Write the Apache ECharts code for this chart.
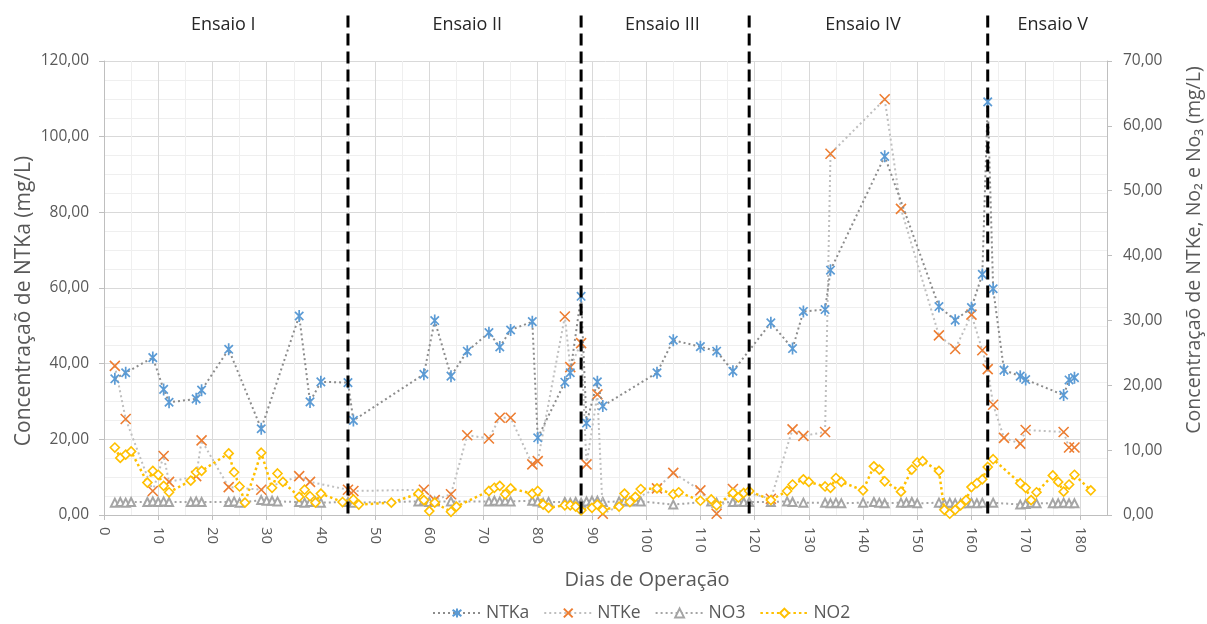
<!DOCTYPE html>
<html>
<head>
<meta charset="utf-8">
<script src="https://cdn.jsdelivr.net/npm/echarts@6/dist/echarts.min.js"></script>
<style>
  html, body { margin: 0; padding: 0; background: #ffffff; }
  #chart { width: 1207px; height: 624px; }
</style>
</head>
<body>
<div id="chart"></div>
<script>
// Operating days and concentrations (mg/L) for each parameter
const ntkaDays = [2, 4, 9, 11, 12, 17, 18, 23, 29, 36, 38, 40, 45, 46, 59, 61, 64, 67, 71, 73,
  75, 79, 80, 85, 86, 88, 89, 91, 92, 102, 105, 110, 113, 116, 123, 127, 129, 133, 134, 144,
  154, 157, 160, 162, 163, 164, 166, 169, 170, 177, 178, 179];
const ntkaValues = [36.0, 37.6, 41.6, 33.2, 29.8, 30.7, 33.0, 43.8, 22.8, 52.6, 29.9, 35.2, 35.0, 25.0, 37.2, 51.4, 36.7, 43.3, 48.2, 44.4,
  48.9, 51.1, 20.4, 35.1, 37.6, 57.8, 24.3, 35.2, 28.8, 37.6, 46.2, 44.5, 43.3, 38.0, 50.8, 44.0, 53.8, 54.3, 64.7, 94.8,
  55.1, 51.5, 54.8, 63.6, 109.2, 59.8, 38.3, 36.7, 35.8, 31.7, 35.7, 36.3];

const ntkeDays = [2, 4, 9, 11, 12, 17, 18, 23, 29, 36, 38, 45, 46, 59, 61, 64, 67, 71, 73, 75,
  79, 80, 85, 86, 88, 89, 91, 92, 102, 105, 110, 113, 116, 123, 127, 129, 133, 134, 144, 147,
  154, 157, 160, 162, 163, 164, 166, 169, 170, 177, 178, 179];
const ntkeValues = [23.0, 14.8, 3.7, 9.1, 5.1, 6.0, 11.5, 4.3, 3.9, 6.0, 5.1, 3.9, 3.7, 3.9, 2.3, 3.2, 12.3, 11.8, 15.0, 15.0,
  7.8, 8.3, 30.6, 22.8, 26.5, 7.8, 18.6, 0.2, 4.1, 6.5, 3.8, 0.2, 4.0, 2.5, 13.2, 12.2, 12.8, 55.7, 64.1, 47.2,
  27.7, 25.6, 30.9, 25.4, 22.5, 17.0, 11.9, 11.0, 13.1, 12.8, 10.4, 10.4];

const no3Days = [2, 3, 4, 5, 8, 9, 10, 11, 12, 16, 17, 18, 23, 24, 25, 29, 30, 31, 32, 36,
  37, 38, 39, 40, 45, 46, 58, 59, 60, 61, 64, 71, 72, 73, 74, 75, 79, 80, 81, 82,
  85, 86, 87, 88, 89, 90, 91, 92, 95, 96, 97, 98, 99, 105, 112, 113, 116, 117, 118, 119,
  123, 126, 127, 129, 133, 134, 135, 136, 140, 142, 143, 144, 147, 148, 149, 150, 154, 155, 156, 157,
  158, 159, 160, 161, 162, 164, 169, 170, 171, 172, 175, 176, 177, 178, 179];
const no3Values = [1.9, 2.0, 1.9, 2.0, 2.0, 2.1, 2.0, 2.1, 2.0, 2.0, 2.1, 2.0, 2.0, 2.1, 1.9, 2.3, 2.2, 2.2, 2.1, 2.0,
  1.9, 2.0, 2.1, 1.9, 2.0, 1.9, 2.1, 2.2, 2.0, 2.1, 2.1, 2.1, 2.2, 2.1, 2.2, 2.1, 2.2, 2.1, 1.9, 2.0,
  2.0, 1.9, 2.0, 1.9, 2.1, 2.2, 2.2, 2.0, 2.1, 2.2, 2.1, 2.2, 2.1, 1.6, 2.1, 1.9, 2.0, 2.1, 2.0, 2.0,
  2.0, 2.1, 2.0, 1.9, 1.9, 1.8, 1.9, 1.8, 1.9, 2.0, 1.9, 1.8, 1.9, 1.9, 2.0, 1.8, 1.9, 1.8, 1.9, 1.8,
  1.8, 1.8, 1.9, 1.8, 1.9, 1.9, 1.6, 1.7, 1.9, 1.8, 1.8, 1.8, 1.9, 1.8, 1.8];

const no2Days = [2, 3, 4, 5, 8, 9, 10, 11, 12, 16, 17, 18, 23, 24, 25, 26, 29, 31, 32, 33,
  36, 37, 38, 39, 40, 44, 46, 47, 53, 58, 59, 60, 61, 64, 65, 71, 72, 73, 74, 75,
  79, 80, 81, 82, 85, 86, 87, 88, 90, 91, 92, 95, 96, 97, 98, 99, 102, 105, 106, 110,
  112, 113, 116, 117, 118, 119, 123, 126, 127, 129, 130, 133, 134, 135, 136, 140, 142, 143, 144, 147,
  149, 150, 151, 154, 155, 156, 157, 158, 159, 160, 161, 162, 163, 164, 169, 170, 171, 172, 175, 176,
  177, 178, 179, 182];
const no2Values = [10.4, 8.8, 9.3, 9.8, 5.0, 6.8, 6.2, 4.5, 3.5, 5.3, 6.6, 6.8, 9.5, 6.6, 4.4, 1.9, 9.6, 4.2, 6.4, 5.1,
  2.8, 3.9, 2.9, 1.9, 3.3, 2.0, 2.4, 1.6, 1.9, 3.3, 2.3, 0.6, 1.9, 0.5, 1.3, 3.7, 4.2, 4.5, 3.2, 4.1,
  3.3, 3.7, 1.6, 1.1, 1.5, 1.5, 1.3, 0.7, 1.1, 1.6, 0.8, 1.3, 3.3, 2.0, 2.8, 4.0, 4.1, 3.2, 3.5, 2.2,
  2.4, 1.5, 3.4, 2.7, 3.4, 3.7, 2.3, 3.7, 4.7, 5.5, 5.1, 4.4, 4.2, 5.7, 5.1, 3.8, 7.5, 7.0, 5.2, 3.6,
  7.0, 8.1, 8.3, 6.8, 0.8, 0.2, 0.8, 1.5, 2.3, 4.3, 4.9, 5.5, 7.4, 8.6, 4.9, 4.2, 2.3, 3.5, 6.1, 5.1,
  3.6, 4.7, 6.2, 3.8];

// Test phases: boundaries (days) and the day each phase name is centred on
const phaseNames = ['Ensaio I', 'Ensaio II', 'Ensaio III', 'Ensaio IV', 'Ensaio V'];
const phaseBoundaries = [45, 88, 119, 163];
const phaseLabelDays = [22, 67, 103, 140, 175];

const FONT = '"Open Sans", "Liberation Sans", sans-serif';
const TEXT = '#595959';
const fmt = v => v.toFixed(2).replace('.', ',');
const pairs = (days, vals) => days.map((d, i) => [d, vals[i]]);

// Marker shapes: asterisk, cross, square diamond
const ASTERISK = 'path://M1.5,1.5L8.5,8.5M8.5,1.5L1.5,8.5M5,0L5,10';
const CROSS = 'path://M0,0L10,10M10,0L0,10';
const DIAMOND = 'path://M5,0L10,5L5,10L0,5Z';

const chart = echarts.init(document.getElementById('chart'), null, { renderer: 'canvas' });

const yCommon = {
  type: 'value',
  axisLine: { show: true, lineStyle: { color: '#BFBFBF', width: 1 } },
  axisTick: { show: true, length: 5, lineStyle: { color: '#BFBFBF' } },
  axisLabel: { formatter: fmt, fontSize: 15.5, color: TEXT, fontFamily: FONT }
};

chart.setOption({
  animation: false,
  textStyle: { fontFamily: FONT },
  grid: { left: 104, right: 100, top: 61, bottom: 109, containLabel: false },
  xAxis: {
    type: 'value', min: 0, max: 185, interval: 10,
    axisLine: { show: true, lineStyle: { color: '#BFBFBF', width: 1 } },
    axisTick: { show: true, length: 5, lineStyle: { color: '#BFBFBF' } },
    axisLabel: {
      rotate: -90, margin: 12, fontSize: 15, color: TEXT, fontFamily: FONT,
      showMaxLabel: false,
      formatter: v => (v % 10 === 0 ? String(v) : '')
    },
    splitLine: { show: true, lineStyle: { color: '#D9D9D9', width: 1 } },
    minorTick: { show: false, splitNumber: 2 },
    minorSplitLine: { show: true, lineStyle: { color: '#EFEFEF', width: 1 } }
  },
  yAxis: [
    Object.assign({}, yCommon, {
      position: 'left', min: 0, max: 120, interval: 20,
      axisLabel: Object.assign({}, yCommon.axisLabel, { margin: 15 }),
      splitLine: { show: true, lineStyle: { color: '#D9D9D9', width: 1 } },
      minorTick: { show: false, splitNumber: 4 },
      minorSplitLine: { show: true, lineStyle: { color: '#EFEFEF', width: 1 } }
    }),
    Object.assign({}, yCommon, {
      position: 'right', min: 0, max: 70, interval: 10,
      axisLabel: Object.assign({}, yCommon.axisLabel, { margin: 16 }),
      splitLine: { show: false }
    })
  ],
  legend: {
    left: 427, top: 599,
    itemWidth: 48, itemHeight: 11, itemGap: 14,
    textStyle: { fontSize: 17.5, color: TEXT, fontFamily: FONT },
    data: ['NTKa', 'NTKe', 'NO3', 'NO2']
  },
  series: [
    {
      name: 'NTKa', type: 'line', yAxisIndex: 0, z: 4,
      data: pairs(ntkaDays, ntkaValues),
      symbol: ASTERISK, symbolSize: 12, symbolKeepAspect: true,
      lineStyle: { color: '#8C8C8C', width: 2, type: [2, 3] },
      itemStyle: { color: '#5B9BD5', borderColor: '#5B9BD5', borderWidth: 1.7 }
    },
    {
      name: 'NTKe', type: 'line', yAxisIndex: 1, z: 3,
      data: pairs(ntkeDays, ntkeValues),
      symbol: CROSS, symbolSize: 10, symbolKeepAspect: true,
      lineStyle: { color: '#BFBFBF', width: 2, type: [2, 3] },
      itemStyle: { color: '#ED7D31', borderColor: '#ED7D31', borderWidth: 1.6 }
    },
    {
      name: 'NO3', type: 'line', yAxisIndex: 1, z: 2,
      data: pairs(no3Days, no3Values),
      symbol: 'emptyTriangle', symbolSize: 8,
      lineStyle: { color: '#A5A5A5', width: 2, type: [2, 3] },
      itemStyle: { color: '#A5A5A5', borderWidth: 1.3 }
    },
    {
      name: 'NO2', type: 'line', yAxisIndex: 1, z: 5,
      data: pairs(no2Days, no2Values),
      symbol: DIAMOND, symbolSize: 9, symbolKeepAspect: true,
      lineStyle: { color: '#FFC000', width: 2.5, type: [2.5, 3] },
      itemStyle: { color: '#FFFFFF', borderColor: '#FFC000', borderWidth: 1.6 }
    }
  ]
});

// Phase dividers and phase names, placed through the axes' own scales
const px = d => chart.convertToPixel({ xAxisIndex: 0 }, d);
const py = v => chart.convertToPixel({ yAxisIndex: 0 }, v);
const DIVIDER_TOP = 132;   // left-axis units, reaching above the plot area
const LABEL_LEVEL = 129.5;

const graphics = [];
phaseBoundaries.forEach(d => {
  graphics.push({
    type: 'line', z: 100, silent: true,
    shape: { x1: px(d), y1: py(DIVIDER_TOP), x2: px(d), y2: py(0) },
    style: { stroke: '#000000', lineWidth: 3, lineDash: [12, 6] }
  });
});
phaseNames.forEach((name, i) => {
  graphics.push({
    type: 'text', z: 100, silent: true,
    x: px(phaseLabelDays[i]), y: py(LABEL_LEVEL),
    style: { text: name, fill: '#262626', font: '18px ' + FONT, align: 'center', verticalAlign: 'middle' }
  });
});

// Axis titles
graphics.push({
  type: 'text', silent: true, x: 24, y: 301, rotation: Math.PI / 2,
  style: { text: 'Concentraçaõ de NTKa (mg/L)', fill: TEXT, font: '21px ' + FONT, align: 'center', verticalAlign: 'middle' }
});
graphics.push({
  type: 'text', silent: true, x: 1194, y: 250, rotation: Math.PI / 2,
  style: { text: 'Concentraçaõ de NTKe, No₂ e No₃ (mg/L)', fill: TEXT, font: '19.5px ' + FONT, align: 'center', verticalAlign: 'middle' }
});
graphics.push({
  type: 'text', silent: true, x: 647, y: 580,
  style: { text: 'Dias de Operação', fill: TEXT, font: '20px ' + FONT, align: 'center', verticalAlign: 'middle' }
});

chart.setOption({ graphic: graphics });
</script>
</body>
</html>
